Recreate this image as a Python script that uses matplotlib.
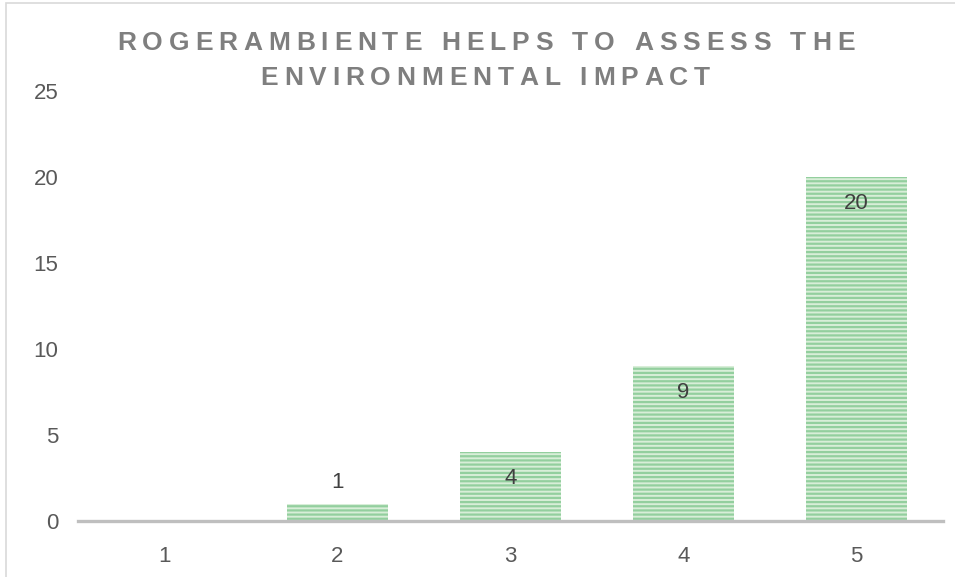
import matplotlib
matplotlib.use("Agg")
import matplotlib.pyplot as plt
from matplotlib.patches import Rectangle

plt.rcParams["font.family"] = ["Liberation Sans", "DejaVu Sans"]
plt.rcParams["hatch.linewidth"] = 1.6

categories = ["1", "2", "3", "4", "5"]
values = [0, 1, 4, 9, 20]
y_ticks = [0, 5, 10, 15, 20, 25]
title_lines = ["ROGERAMBIENTE HELPS TO ASSESS THE", "ENVIRONMENTAL IMPACT"]

W, H = 955, 577
fig = plt.figure(figsize=(W / 100, H / 100), dpi=100)
ax = fig.add_axes([78 / W, 1 - 521 / H, (943 - 78) / W, (521 - 91) / H])

x = list(range(len(categories)))
stripe = "#93cf9e"
bars = ax.bar(x, values, width=0.58, color="#d8eed8", edgecolor=stripe,
              linewidth=0, hatch="----", zorder=2)
for b in bars:
    try:
        b.set_hatchcolor(stripe)
    except AttributeError:
        pass

ax.set_xlim(-0.5, len(categories) - 0.5)
ax.set_ylim(0, 25)
ax.set_yticks(y_ticks)
ax.set_xticks(x)
ax.set_xticklabels(categories)
ax.tick_params(axis="both", length=0, labelsize=16, colors="#595959")
ax.tick_params(axis="y", pad=14)
ax.tick_params(axis="x", pad=18)
for side in ("top", "right", "left"):
    ax.spines[side].set_visible(False)
ax.spines["bottom"].set_color("#bfbfbf")
ax.spines["bottom"].set_linewidth(2.4)
ax.spines["bottom"].set_zorder(3)

# value labels: inside the bar top, or above it when the bar is too short
for xi, v in zip(x, values):
    if v <= 0:
        continue
    dy = -19 if v >= 3 else 15
    ax.annotate(str(v), (xi, v), xytext=(0, dy), textcoords="offset points",
                ha="center", va="center", fontsize=16, color="#404040", zorder=4)

# letter-spaced title, laid out one glyph at a time
renderer = fig.canvas.get_renderer()
title_kw = dict(fontsize=19, fontweight="bold", color="#7f7f7f", va="center")


def glyph_widths(s):
    widths = []
    for ch in s:
        t = fig.text(0, 0, ch if ch != " " else "n", **title_kw)
        w = t.get_window_extent(renderer).width
        t.remove()
        widths.append(w * (0.5 if ch == " " else 1.0))
    return widths


w1 = glyph_widths(title_lines[0])
track = (855 - 118 - sum(w1)) / (len(title_lines[0]) - 1)


def draw_line(s, widths, cx, cy):
    total = sum(widths) + track * (len(s) - 1)
    px = cx - total / 2
    for ch, w in zip(s, widths):
        if ch != " ":
            fig.text(px / W, 1 - cy / H, ch, ha="left", **title_kw)
        px += w + track


draw_line(title_lines[0], w1, 486, 43)
draw_line(title_lines[1], glyph_widths(title_lines[1]), 485, 78)

# chart-area frame
fig.patches.append(Rectangle((6 / W, -0.1), 1.2, 1 - 3 / H + 0.1,
                             transform=fig.transFigure, fill=False,
                             edgecolor="#d9d9d9", linewidth=1.2))

fig.savefig("out.png", dpi=100, facecolor="white")
